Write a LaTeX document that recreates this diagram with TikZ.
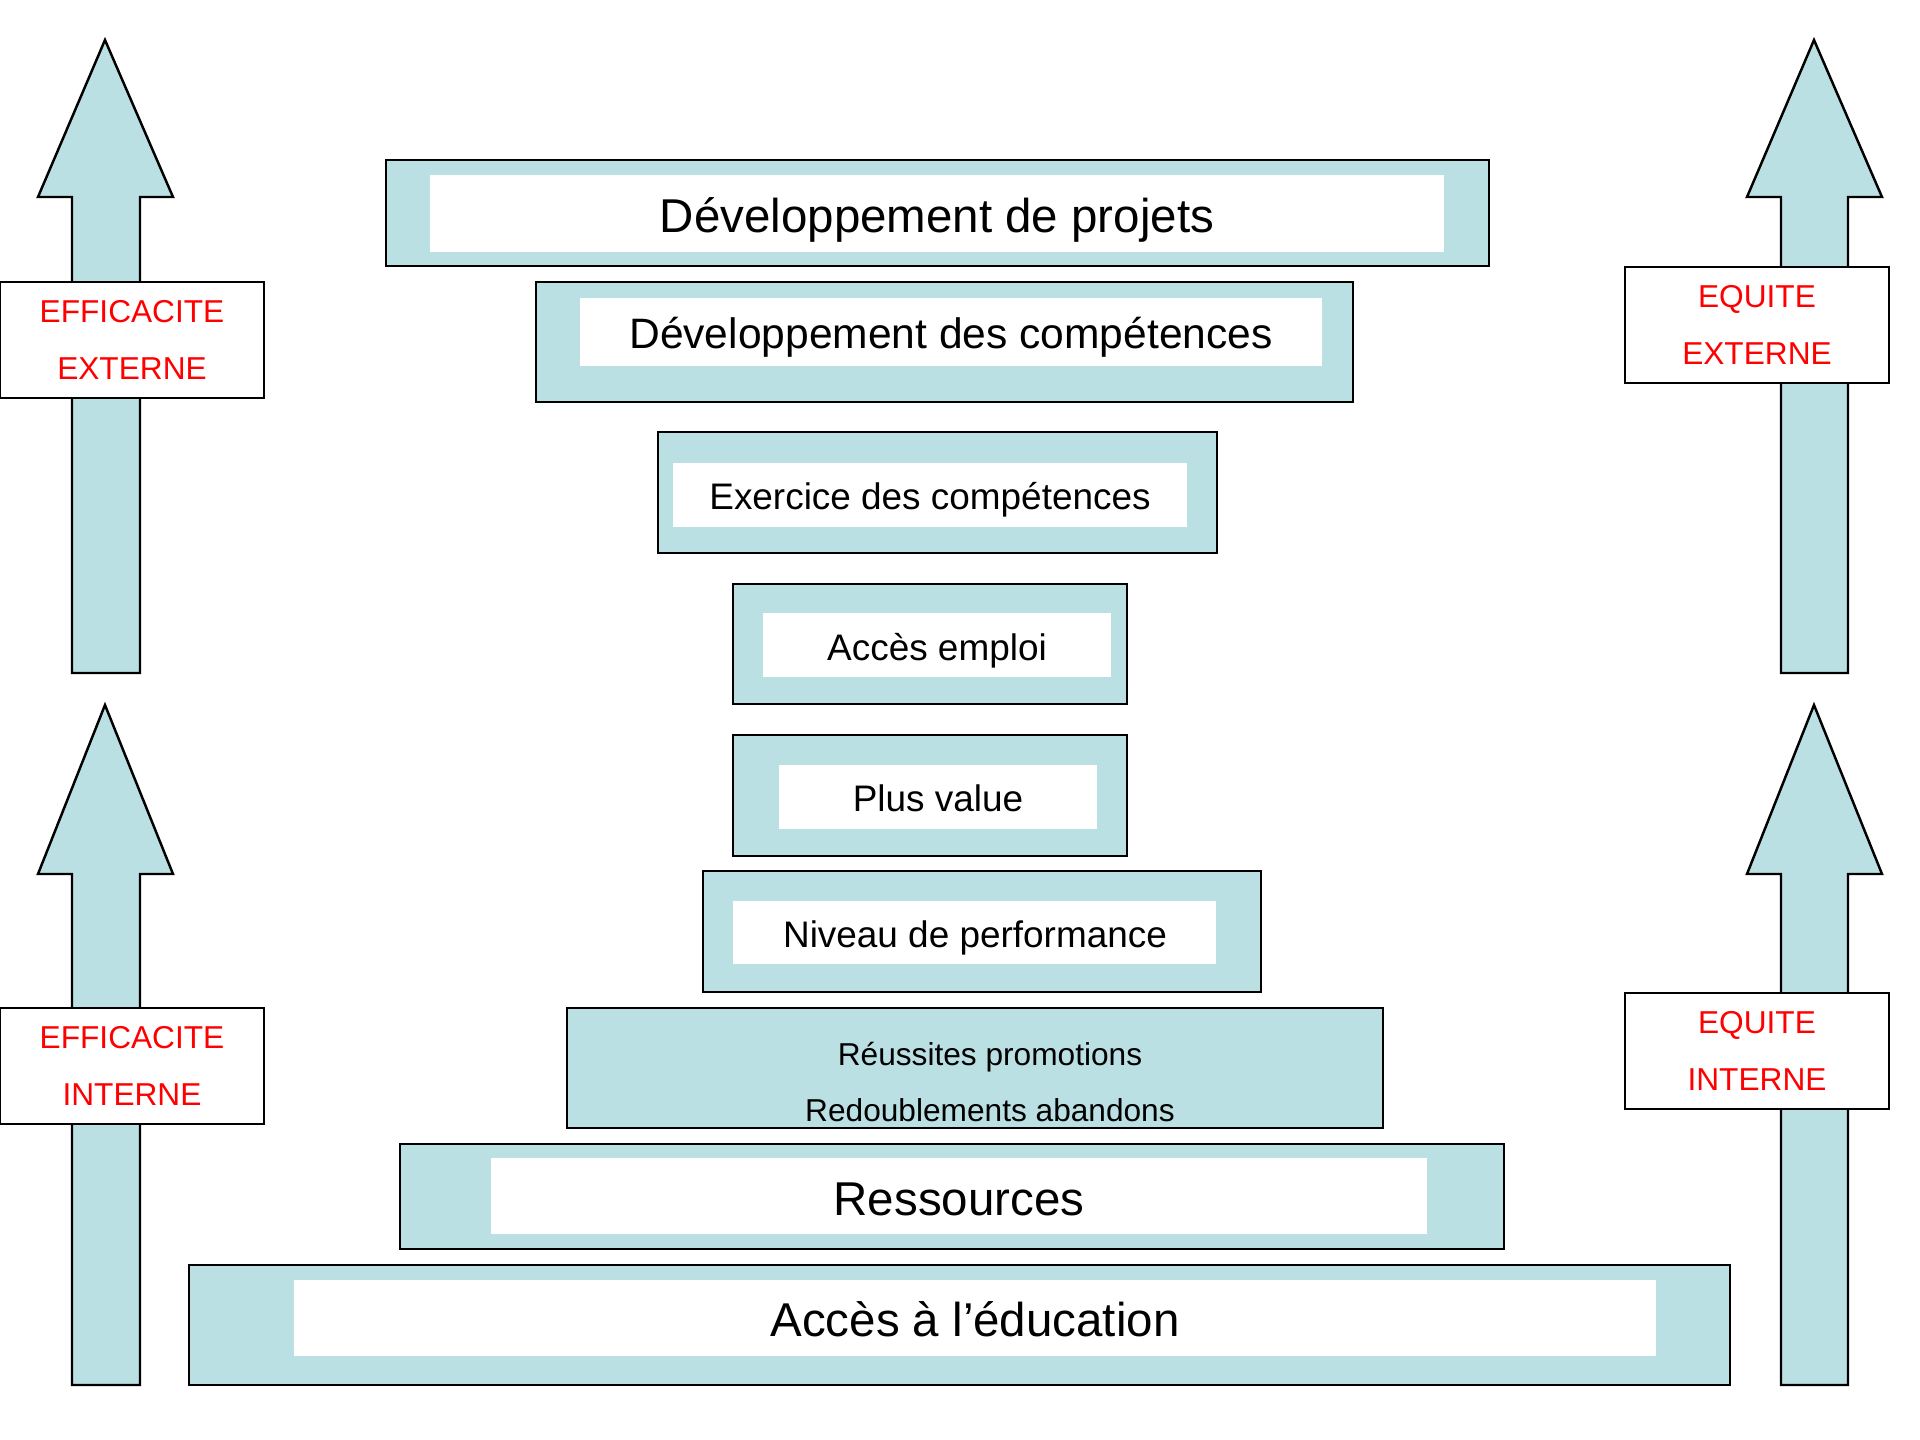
\documentclass[tikz,border=0pt]{standalone}
\usepackage{fontspec}
\setmainfont{Liberation Sans}
\definecolor{bleupalier}{RGB}{187,224,227}
\definecolor{rougetexte}{RGB}{255,0,0}

\begin{document}
\begin{tikzpicture}[x=0.01cm, y=-0.01cm,
    palier/.style={draw=black, line width=0.7pt, fill=bleupalier},
    fleche/.style={draw=black, line width=0.7pt, fill=bleupalier},
    etiquette/.style={draw=black, line width=0.7pt, fill=white, text=rougetexte, align=center,
        minimum width=2.64cm, minimum height=1.16cm, inner sep=0pt, font=\fontsize{9}{16.2}\selectfont},
    grandtexte/.style={inner sep=0pt, font=\fontsize{13.5}{16}\selectfont},
    moyentexte/.style={inner sep=0pt, font=\fontsize{10.5}{13}\selectfont},
    petittexte/.style={inner sep=0pt, font=\fontsize{9}{11}\selectfont}]
    \useasboundingbox (0,0) rectangle (1920,1440);

    % Left arrows
    \draw[fleche] (72,673) -- (72,197) -- (38,197) -- (105,40) -- (173,197) -- (140,197) -- (140,673) -- cycle;
    \draw[fleche] (72,1385) -- (72,874) -- (38,874) -- (105,705) -- (173,874) -- (140,874) -- (140,1385) -- cycle;
    \node[etiquette] (effext) at (132,340) {EFFICACITE\\EXTERNE};
    \node[etiquette] (effint) at (132,1066) {EFFICACITE\\INTERNE};

    % Right arrows
    \draw[fleche] (1781,673) -- (1781,197) -- (1747,197) -- (1814,40) -- (1882,197) -- (1848,197) -- (1848,673) -- cycle;
    \draw[fleche] (1781,1385) -- (1781,874) -- (1747,874) -- (1814,705) -- (1882,874) -- (1848,874) -- (1848,1385) -- cycle;
    \node[etiquette] (equext) at (1757,325) {EQUITE\\EXTERNE};
    \node[etiquette] (equint) at (1757,1051) {EQUITE\\INTERNE};

    % Steps, top to bottom
    \draw[palier] (386,160) rectangle (1489,266);
    \fill[white] (430,175) rectangle (1444,252);
    \node[grandtexte] (projets) at (937,220) {Développement de projets};

    \draw[palier] (536,282) rectangle (1353,402);
    \fill[white] (580,298) rectangle (1322,366);
    \node[grandtexte, font=\fontsize{12.1}{15}\selectfont] (devcomp) at (951,337) {Développement des compétences};

    \draw[palier] (658,432) rectangle (1217,553);
    \fill[white] (673,463) rectangle (1187,527);
    \node[moyentexte] (exercice) at (930,500) {Exercice des compétences};

    \draw[palier] (733,584) rectangle (1127,704);
    \fill[white] (763,613) rectangle (1111,677);
    \node[moyentexte] (emploi) at (937,651) {Accès emploi};

    \draw[palier] (733,735) rectangle (1127,856);
    \fill[white] (779,765) rectangle (1097,829);
    \node[moyentexte] (plusvalue) at (938,798) {Plus value};

    \draw[palier] (703,871) rectangle (1261,992);
    \fill[white] (733,901) rectangle (1216,964);
    \node[moyentexte] (niveau) at (975,938) {Niveau de performance};

    \draw[palier] (567,1008) rectangle (1383,1128);
    \node[petittexte] (reussites) at (990,1057) {Réussites promotions};
    \node[petittexte] (redoublements) at (990,1110) {Redoublements abandons};

    \draw[palier] (400,1144) rectangle (1504,1249);
    \fill[white] (491,1158) rectangle (1427,1234);
    \node[grandtexte] (ressources) at (959,1199) {Ressources};

    \draw[palier] (189,1265) rectangle (1730,1385);
    \fill[white] (294,1280) rectangle (1656,1356);
    \node[grandtexte] (education) at (975,1319) {Accès à l’éducation};
\end{tikzpicture}
\end{document}
